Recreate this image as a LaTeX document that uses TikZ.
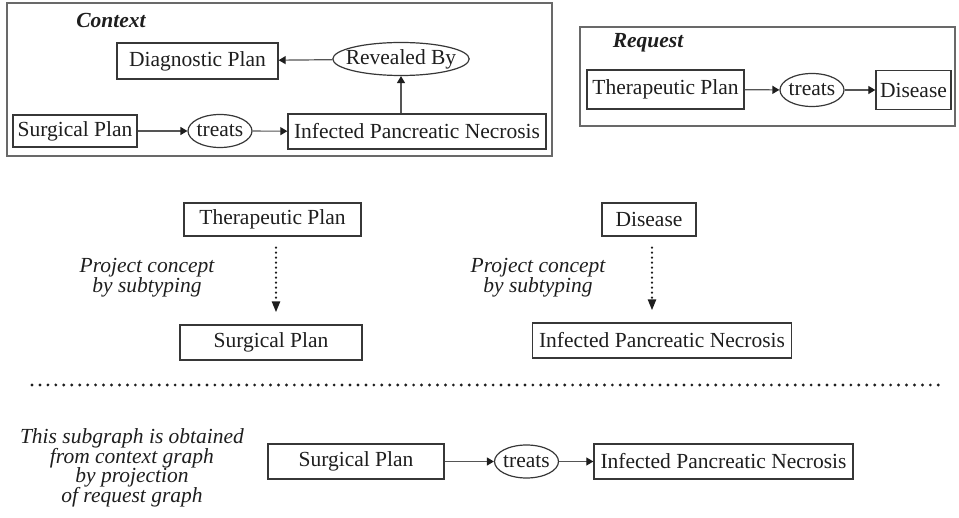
\documentclass[tikz,border=0pt]{standalone}
\usepackage{fontspec}
\setmainfont{Liberation Serif}
\usetikzlibrary{arrows.meta,shapes.geometric}
\definecolor{CGink}{RGB}{30,30,30}
\definecolor{CGedge}{RGB}{55,55,55}
\definecolor{CGline}{RGB}{85,85,85}
\definecolor{CGframe}{RGB}{105,105,105}
\newcommand{\cgfont}{\fontsize{21.5pt}{19.6pt}\selectfont\lineskiplimit=-20pt}
\tikzset{
  concept/.style={draw=CGedge,line width=1.3pt,text=CGink,inner xsep=4pt,inner ysep=0pt,
                  minimum height=35pt,font=\cgfont},
  relation/.style={ellipse,draw=CGedge,line width=1.2pt,text=CGink,inner xsep=-7pt,inner ysep=0pt,
                  minimum width=64pt,minimum height=33pt,font=\cgfont},
  frame/.style={draw=CGframe,line width=1.4pt},
  title/.style={text=CGink,font=\cgfont\bfseries\itshape},
  note/.style={text=CGink,align=center,font=\cgfont\itshape},
  arc/.style={-{Triangle[length=7pt,width=8pt,color=CGink]},line width=1.2pt,draw=CGline},
  proj/.style={-{Triangle[length=11pt,width=8pt]},line width=2.4pt,draw=CGink,
               dash pattern=on 0pt off 5pt,line cap=round},
  sep/.style={line width=3.2pt,draw=CGink,dash pattern=on 0pt off 7.95pt,line cap=round}
}
\begin{document}
\begin{tikzpicture}[x=1pt,y=-1pt]
  \useasboundingbox (0,0) rectangle (959,518);
  \draw[frame] (7,3) rectangle (552,156);
  \draw[frame] (580,27) rectangle (955,126);

  \node[title] (ctxt) at (111,20) {Context};
  \node[concept,minimum width=161pt,minimum height=36pt] (diag) at (197.5,61) {Diagnostic Plan};
  \node[relation] (rev) at (401,59) {Revealed By};
  \node[concept,minimum width=124pt,minimum height=32pt] (sp1) at (75,131) {Surgical Plan};
  \node[relation] (tr1) at (220,131) {treats};
  \node[concept,minimum width=258pt] (ipn1) at (417,131.5) {Infected Pancreatic Necrosis};
  \draw[arc] (rev) -- (diag);
  \draw[arc] (rev.south |- ipn1.north) -- (rev.south);
  \draw[arc] (sp1) -- (tr1);
  \draw[arc] (tr1) -- (ipn1);

  \node[title] (rtxt) at (648,43) {Request};
  \node[concept,minimum width=157pt,minimum height=39pt] (tp2) at (665.5,89.5) {Therapeutic Plan};
  \node[relation] (tr2) at (812,90) {treats};
  \node[concept,minimum width=75pt,minimum height=39pt] (dis2) at (913.5,90) {Disease};
  \draw[arc] (tp2) -- (tr2);
  \draw[arc] (tr2) -- (dis2);

  \node[concept,minimum width=177pt,minimum height=33pt] (tp3) at (272.5,219.5) {Therapeutic Plan};
  \node[concept,minimum width=182pt] (sp3) at (271,342.5) {Surgical Plan};
  \node[note] (why1) at (147,278) {Project concept\\by subtyping};
  \node[concept,minimum width=94pt,minimum height=33pt] (dis3) at (649,219.5) {Disease};
  \node[concept,minimum width=259pt] (ipn3) at (662,340.5) {Infected Pancreatic Necrosis};
  \node[note] (why2) at (538,278) {Project concept\\by subtyping};
  \draw[proj,shorten <=11pt,shorten >=12pt] ([xshift=3.5pt]tp3.south) -- ([xshift=3.5pt]tp3.south |- sp3.north);
  \draw[proj,shorten <=11pt,shorten >=12pt] ([xshift=3pt]dis3.south) -- ([xshift=3pt]dis3.south |- ipn3.north);

  \draw[sep] (32,385) -- (945,385);

  \node[note] (how) at (132,468) {This subgraph is obtained\\from context graph\\by projection\\of request graph};
  \node[concept,minimum width=176pt] (sp4) at (356,461.5) {Surgical Plan};
  \node[relation] (tr4) at (526.5,461.5) {treats};
  \node[concept,minimum width=259pt] (ipn4) at (723.5,461.5) {Infected Pancreatic Necrosis};
  \draw[arc] (sp4) -- (tr4);
  \draw[arc] (tr4) -- (ipn4);
\end{tikzpicture}
\end{document}
